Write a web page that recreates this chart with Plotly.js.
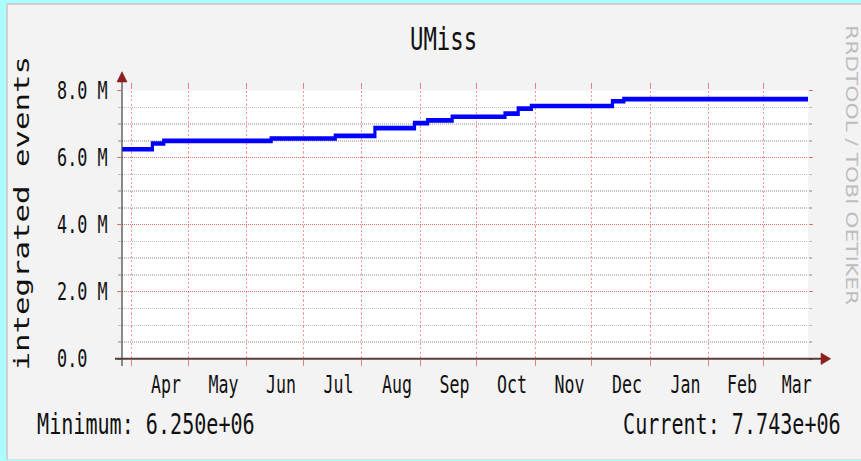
<!DOCTYPE html>
<html>
<head>
<meta charset="utf-8">
<script src="https://cdn.plot.ly/plotly-3.0.1.min.js"></script>
<style>
  html, body { margin: 0; padding: 0; background: #aaffff; width: 861px; height: 461px; overflow: hidden; }
  #frame { position: absolute; left: 6px; top: 3px; width: 855px; height: 454px;
           background: #f3f3f3; border-left: 2px solid #cfcfcf; border-top: 2px solid #cfcfcf;
           border-bottom: 1px solid #dcdcdc; overflow: hidden; }
  #chart { position: absolute; left: 0; top: 0; width: 853px; height: 313px;
           transform: scaleY(1.45); transform-origin: 0 0; }
</style>
</head>
<body>
<div id="frame"><div id="chart"></div></div>
<script>
// Data (step series, value held until next date)
const stepDates = ['2007-03-26 21:00', '2007-04-12', '2007-04-18', '2007-06-14', '2007-07-18',
                   '2007-08-08', '2007-08-29', '2007-09-05', '2007-09-18', '2007-10-16',
                   '2007-10-23', '2007-10-30', '2007-12-12', '2007-12-18', '2008-03-25'];
const stepValues = [6.25e6, 6.42e6, 6.50e6, 6.57e6, 6.65e6,
                    6.88e6, 7.03e6, 7.11e6, 7.22e6, 7.31e6,
                    7.46e6, 7.54e6, 7.68e6, 7.743e6, 7.743e6];
const yTickVals = [0, 2e6, 4e6, 6e6, 8e6];
const yTickText = ['0.0\u00a0\u00a0', '2.0 M', '4.0 M', '6.0 M', '8.0 M'];
const xRange = ['2007-03-26 21:00', '2008-03-24 17:00'];
const titleText = 'UMiss';
const yTitleText = 'integrated events';
const minText = 'Minimum: 6.250e+06';
const curText = 'Current: 7.743e+06';
const watermark = 'RRDTOOL / TOBI OETIKER';

const MONO = 'DejaVu Sans Mono, monospace';
const redGrid = 'rgba(255,0,0,0.42)';
const grayGrid = 'rgba(120,120,120,0.45)';
const arrowCol = '#8b1e1e';

const trace = {
  x: stepDates, y: stepValues, type: 'scatter', mode: 'lines',
  line: { shape: 'hv', color: '#0000ff', width: 3.2 },
  hoverinfo: 'skip'
};

const layout = {
  width: 853, height: 313,
  margin: { l: 114, r: 53, t: 59, b: 69, pad: 0 },
  paper_bgcolor: '#f3f3f3', plot_bgcolor: '#ffffff',
  showlegend: false, hovermode: false,
  font: { family: MONO, color: '#111' },
  title: { text: titleText, font: { family: MONO, size: 22.3, color: '#111' },
           x: 0.5106, xanchor: 'center', y: 0.926, yanchor: 'middle', xref: 'container', yref: 'container' },
  xaxis: {
    type: 'date', range: xRange, tickmode: 'linear', tick0: '2007-04-01', dtick: 'M1',
    tickformat: '%b', ticklabelmode: 'period', ticklabelshift: 6, ticklabelstandoff: -1,
    showgrid: true, gridcolor: redGrid, griddash: '1.5px,1.5px', gridwidth: 1,
    ticks: 'outside', ticklen: 4, tickcolor: 'rgba(220,80,80,0.7)', tickwidth: 1, mirror: 'ticks',
    showline: false, zeroline: false,
    tickfont: { family: MONO, size: 16.6, color: '#111' }
  },
  yaxis: {
    range: [0, 8e6], tickmode: 'array', tickvals: yTickVals, ticktext: yTickText,
    showgrid: true, gridcolor: redGrid, griddash: '1px,1px', gridwidth: 1,
    ticks: 'outside', ticklen: 4, tickcolor: 'rgba(220,80,80,0.7)', tickwidth: 1, mirror: 'ticks',
    ticklabelstandoff: 6,
    minor: { tickmode: 'linear', tick0: 0, dtick: 5e5, showgrid: true, gridcolor: grayGrid,
             griddash: '1px,1px', gridwidth: 1, ticks: 'outside', ticklen: 3, tickcolor: grayGrid },
    showline: false, zeroline: false,
    tickfont: { family: MONO, size: 16.8, color: '#111' }
  },
  shapes: [
    // x axis line + arrow
    { type: 'line', xref: 'paper', yref: 'paper', x0: -0.0102, x1: 1.021, y0: 0, y1: 0,
      line: { color: '#5a3c3c', width: 1.4 }, layer: 'above' },
    { type: 'path', xref: 'paper', yref: 'paper', path: 'M 1.019 -0.0216 L 1.033 0 L 1.019 0.0216 Z',
      fillcolor: arrowCol, line: { color: arrowCol, width: 0.5 }, layer: 'above' },
    // y axis line + arrow
    { type: 'line', xref: 'paper', yref: 'paper', x0: 0, x1: 0, y0: -0.027, y1: 1.033,
      line: { color: '#404040', width: 1.2 }, layer: 'above' },
    { type: 'path', xref: 'paper', yref: 'paper', path: 'M -0.0073 1.032 L 0 1.070 L 0.0073 1.032 Z',
      fillcolor: arrowCol, line: { color: arrowCol, width: 0.5 }, layer: 'above' }
  ],
  annotations: [
    { text: yTitleText, xref: 'paper', yref: 'paper', x: -0.1472, y: 0.54, textangle: -90,
      showarrow: false, xanchor: 'center', yanchor: 'middle',
      font: { family: MONO, size: 21.2, color: '#111' } },
    { text: minText, xref: 'paper', yref: 'paper', x: -0.1268, y: -0.243, showarrow: false,
      xanchor: 'left', yanchor: 'middle', font: { family: MONO, size: 20.1, color: '#111' } },
    { text: curText, xref: 'paper', yref: 'paper', x: 1.0506, y: -0.243, showarrow: false,
      xanchor: 'right', yanchor: 'middle', font: { family: MONO, size: 20.1, color: '#111' } },
    { text: watermark, xref: 'paper', yref: 'paper', x: 1.062, y: 0.7227, textangle: 90,
      showarrow: false, xanchor: 'center', yanchor: 'middle',
      font: { family: 'DejaVu Sans, sans-serif', size: 15, color: '#bdbdbd' } }
  ]
};

Plotly.newPlot('chart', [trace], layout, { staticPlot: true, displayModeBar: false });
</script>
</body>
</html>
